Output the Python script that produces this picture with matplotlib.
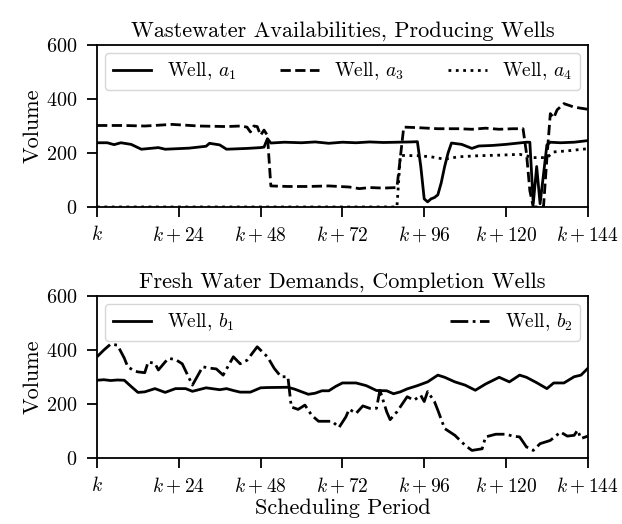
import matplotlib
matplotlib.use("Agg")
import matplotlib.pyplot as plt

plt.rcParams.update({
    "font.family": "serif",
    "font.serif": ["cmr10"],
    "mathtext.fontset": "cm",
    "axes.formatter.use_mathtext": True,
    "font.size": 14,
    "axes.linewidth": 1.3,
    "xtick.major.width": 1.3,
    "ytick.major.width": 1.3,
    "xtick.major.size": 7,
    "ytick.major.size": 7.5,
    "xtick.major.pad": 6,
    "ytick.major.pad": 7,
    "xtick.labelsize": 14,
    "ytick.labelsize": 14.5,
    "axes.titlesize": 16,
    "axes.labelsize": 16,
    "legend.fontsize": 14,
})

# ---- data ----
xticks = [0, 24, 48, 72, 96, 120, 144]
xticklabels = [r"$k$", r"$k+24$", r"$k+48$", r"$k+72$", r"$k+96$", r"$k+120$", r"$k+144$"]
yticks = [0, 200, 400, 600]

a1_t = [0, 3, 5, 7, 10, 13, 18, 20, 27, 32, 33, 36, 38, 44, 48, 49, 50, 51, 55, 60, 64, 68, 72, 76, 80, 84, 88, 92,
        94, 95, 96, 97, 98, 99, 100, 101, 102, 103, 104, 107, 110, 112, 116, 120, 123, 126, 127, 128, 129, 130, 131,
        132, 133, 136, 140, 144]
a1_v = [238, 238, 231, 238, 232, 214, 220, 214, 218, 225, 236, 230, 214, 217, 220, 222, 253, 237, 240, 238, 241, 236,
        240, 238, 241, 239, 240, 241, 242, 150, 30, 19, 30, 35, 45, 90, 150, 200, 237, 232, 217, 226, 228, 232, 236,
        240, 240, 12, 150, 12, 120, 230, 240, 238, 240, 246]

a3_t = [0, 8, 14, 22, 30, 38, 42, 44, 45, 46, 47, 48, 49, 50, 51, 56, 62, 68, 74, 77, 80, 84, 88, 90, 94, 100, 106,
        110, 114, 118, 122, 125, 126, 127, 128, 131, 132, 133, 134, 135, 137, 140, 144]
a3_v = [302, 302, 300, 306, 300, 298, 300, 296, 278, 300, 298, 266, 285, 265, 78, 76, 76, 78, 74, 68, 72, 70, 72,
        296, 294, 290, 290, 288, 292, 288, 290, 290, 200, 60, 0, 0, 180, 346, 330, 360, 383, 370, 362]

a4_t = [0, 88, 89, 94, 98, 102, 106, 112, 118, 124, 126, 128, 132, 134, 138, 144]
a4_v = [0, 0, 191, 190, 186, 177, 186, 190, 192, 195, 190, 183, 183, 204, 208, 216]

b1_t = [0, 2, 4, 6, 8, 10, 12, 14, 17, 20, 23, 26, 28, 32, 36, 38, 40, 42, 45, 48, 50, 56, 58, 62, 64, 66, 68, 70,
        72, 76, 79, 82, 85, 87, 89, 91, 94, 97, 100, 102, 105, 108, 111, 114, 118, 121, 124, 126, 129, 132, 134,
        137, 140, 142, 144]
b1_v = [288, 290, 287, 289, 288, 265, 243, 245, 257, 243, 257, 257, 247, 260, 253, 257, 250, 244, 244, 260, 261,
        262, 255, 236, 240, 249, 249, 265, 278, 278, 268, 250, 249, 238, 245, 256, 268, 282, 307, 299, 282, 270,
        251, 274, 299, 282, 307, 299, 279, 257, 278, 278, 301, 307, 332]

b2_t = [0, 2, 4, 6, 8, 9, 11, 12, 14, 15, 17, 18, 20, 21, 23, 25, 28, 31, 33, 35, 37, 40, 42, 44, 47, 49, 50, 52,
        54, 56, 57, 59, 61, 63, 65, 69, 71, 73, 74, 76, 78, 80, 82, 83, 85, 86, 88, 91, 93, 95, 96, 97, 99, 100,
        102, 105, 108, 110, 113, 114, 117, 120, 122, 124, 126, 128, 130, 133, 136, 138, 140, 141, 142, 144]
b2_v = [375, 400, 422, 418, 370, 338, 322, 319, 316, 356, 350, 326, 356, 369, 365, 349, 270, 338, 333, 330, 307,
        375, 349, 362, 412, 387, 375, 332, 301, 301, 189, 180, 196, 158, 136, 136, 113, 152, 181, 165, 193, 184,
        184, 251, 171, 142, 171, 227, 214, 232, 209, 246, 209, 177, 109, 84, 47, 28, 34, 78, 88, 88, 81, 78, 41,
        28, 53, 65, 96, 81, 84, 103, 72, 81]

fig = plt.figure(figsize=(6.22, 5.24), dpi=100)
ax1 = fig.add_axes([0.156, 0.605, 0.789, 0.309])
ax2 = fig.add_axes([0.156, 0.126, 0.789, 0.309])

lw = 2.0
ax1.plot(a1_t, a1_v, color="black", lw=lw, ls="-", label="Well, $a_1$")
ax1.plot(a3_t, a3_v, color="black", lw=lw, ls="--", label="Well, $a_3$")
ax1.plot(a4_t, a4_v, color="black", lw=lw, ls=":", label="Well, $a_4$")
ax1.set_title("Wastewater Availabilities, Producing Wells")
ax1.legend(loc="upper left", ncol=3, mode="expand", borderaxespad=0.4, handlelength=2.0)

ax2.plot(b1_t, b1_v, color="black", lw=lw, ls="-", label="Well, $b_1$")
ax2.plot(b2_t, b2_v, color="black", lw=lw, ls="-.", label="Well, $b_2$")
ax2.set_title("Fresh Water Demands, Completion Wells")
ax2.legend(loc="upper left", ncol=2, mode="expand", borderaxespad=0.4, handlelength=2.0)
ax2.set_xlabel("Scheduling Period", labelpad=2)

for ax in (ax1, ax2):
    ax.set_xlim(0, 144)
    ax.set_ylim(0, 600)
    ax.set_xticks(xticks)
    ax.set_xticklabels(xticklabels)
    ax.set_yticks(yticks)
    ax.set_ylabel("Volume", labelpad=2)

fig.savefig("out.png", dpi=100)
